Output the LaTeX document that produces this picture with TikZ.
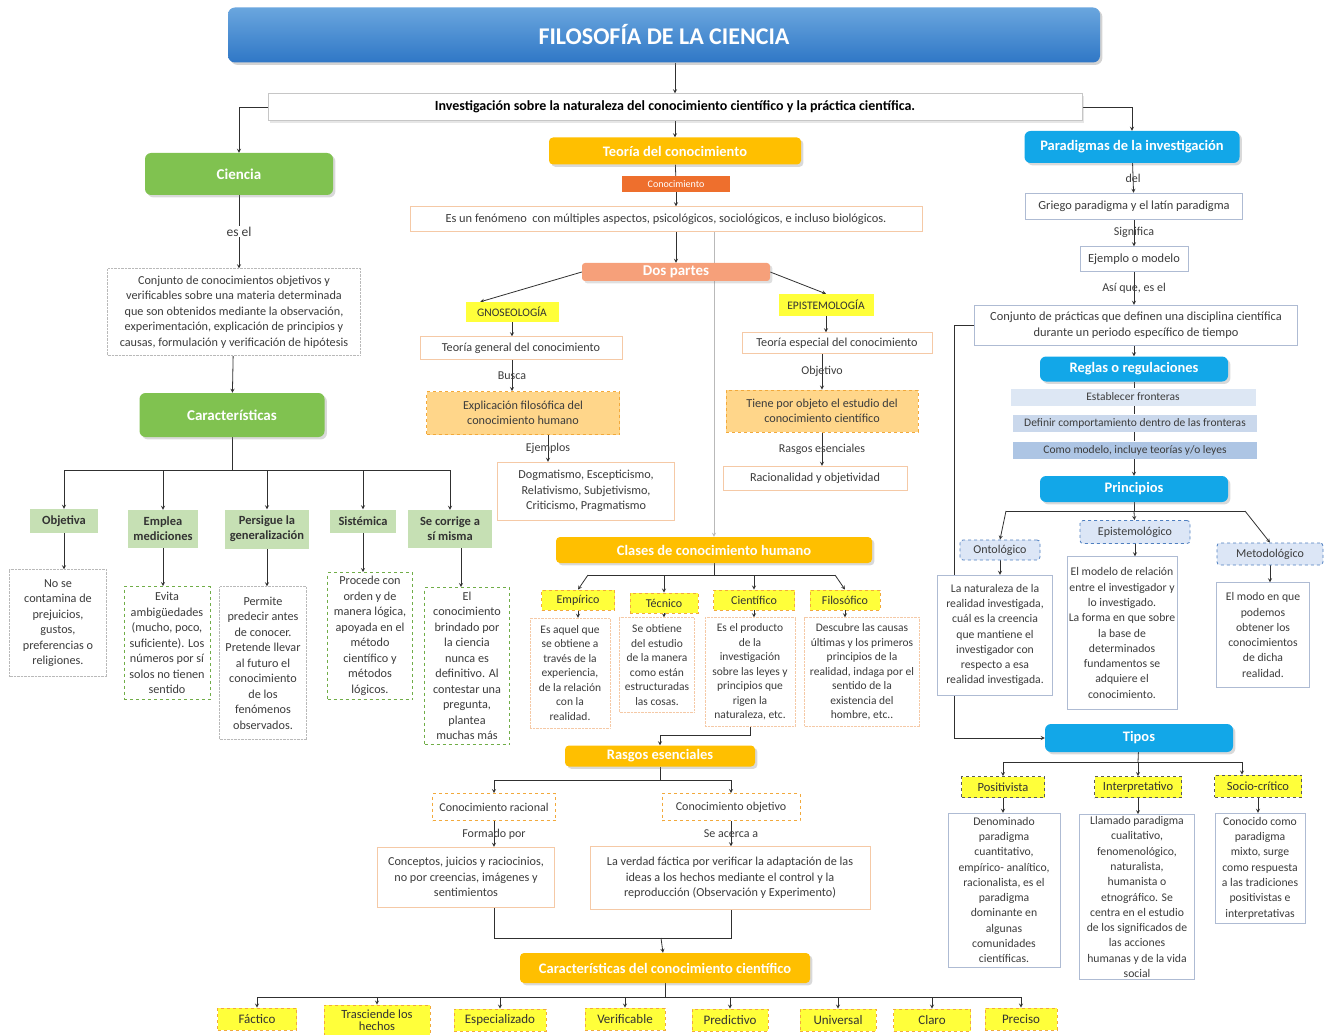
\documentclass[tikz,border=0pt]{standalone}
\usepackage{fontspec}
\setmainfont{Carlito}
\usepackage{tikz}
\usetikzlibrary{arrows, positioning, shadows, calc, backgrounds}

\definecolor{titletop}{HTML}{6AA6DE}
\definecolor{titlebot}{HTML}{2F77C6}
\definecolor{scigreen}{HTML}{80C250}
\definecolor{chargreen}{HTML}{C6E0B4}
\definecolor{dashgreen}{HTML}{70AD47}
\definecolor{gold}{HTML}{FFBF00}
\definecolor{conorange}{HTML}{EE6F2D}
\definecolor{salmon}{HTML}{F6A07A}
\definecolor{hlyellow}{HTML}{FFFF3A}
\definecolor{dashorange}{HTML}{F2A93B}
\definecolor{explfill}{HTML}{FFD68A}
\definecolor{lightorange}{HTML}{F5C9A6}
\definecolor{cyanblue}{HTML}{12A7E8}
\definecolor{paleblue1}{HTML}{DDE7F4}
\definecolor{paleblue2}{HTML}{CAD8EC}
\definecolor{paleblue3}{HTML}{ADC5E4}
\definecolor{princfill}{HTML}{DCE6F6}
\definecolor{dashblue}{HTML}{4F7FC0}
\definecolor{blueline}{HTML}{AEBBD3}
\definecolor{linegray}{HTML}{303030}
\definecolor{txtgray}{HTML}{3C3C3C}

\newcommand{\desc}{\fontsize{12.2}{15.5}\selectfont}
\newcommand{\descs}{\fontsize{11.5}{14.5}\selectfont}
\newcommand{\descr}{\fontsize{11.7}{15.3}\selectfont}

\begin{document}
\begin{tikzpicture}[x=1pt, y=-1pt,
    arrow/.style={->, >=stealth, thick, draw=linegray},
    link/.style={thick, draw=linegray},
    lbl/.style={inner sep=1pt, font=\fontsize{12}{14}\selectfont, text=txtgray},
    titlebox/.style={rectangle, rounded corners=7pt, top color=titletop, bottom color=titlebot, text=white, font=\bfseries\fontsize{24}{28}\selectfont, drop shadow={opacity=0.35}},
    whitebar/.style={rectangle, draw=gray!45, fill=white, font=\bfseries\fontsize{14}{16}\selectfont, drop shadow={opacity=0.2}},
    greenhead/.style={rectangle, rounded corners=6pt, fill=scigreen, text=white, font=\bfseries\fontsize{15}{17}\selectfont, drop shadow={opacity=0.3}},
    charbox/.style={rectangle, fill=chargreen, align=center, inner sep=2pt, font=\bfseries\fontsize{12.5}{15}\selectfont, text=black!80},
    infobox/.style={rectangle, draw=gray!55, densely dotted, fill=white, align=center, inner sep=2pt, font=\desc, text=txtgray},
    greendash/.style={rectangle, draw=dashgreen, dashed, thick, fill=white, align=center, inner sep=2pt, font=\desc, text=txtgray},
    goldhead/.style={rectangle, rounded corners=4pt, fill=gold, text=white, font=\bfseries\fontsize{14.5}{17}\selectfont, drop shadow={opacity=0.3}},
    tagbox/.style={rectangle, fill=conorange, text=white, inner sep=1pt, font=\fontsize{10}{11}\selectfont},
    orangebox/.style={rectangle, draw=lightorange, fill=white, align=center, inner sep=2pt, font=\desc, text=txtgray},
    hlbox/.style={rectangle, fill=hlyellow, font=\fontsize{11.5}{13}\selectfont, text=black!80},
    yellowdash/.style={rectangle, fill=hlyellow, draw=dashorange, dashed, thick, inner sep=2pt, font=\fontsize{12}{13}\selectfont, text=black!80, align=center},
    explbox/.style={rectangle, fill=explfill, draw=dashorange, dashed, thick, align=center, inner sep=2pt, font=\desc, text=txtgray},
    bluehead/.style={rectangle, rounded corners=6pt, fill=cyanblue, text=white, font=\bfseries\fontsize{14.5}{17}\selectfont, drop shadow={opacity=0.3}},
    bandbox/.style={rectangle, inner sep=1pt, font=\fontsize{11.5}{12}\selectfont, text=txtgray},
    princbox/.style={rectangle, rounded corners=3pt, fill=princfill, draw=dashblue, dashed, thick, inner sep=2pt, font=\fontsize{12}{13}\selectfont, text=txtgray},
    bluebox/.style={rectangle, draw=blueline, fill=white, align=center, inner sep=2pt, font=\descr, text=txtgray},
    typebox/.style={rectangle, fill=hlyellow, draw=gray!70!black, dashed, thick, inner sep=2pt, font=\fontsize{12.5}{14}\selectfont, text=black!80}
]
\useasboundingbox (0,0) rectangle (1326,1035);

% top
\node[titlebox, minimum width=872, minimum height=55] (title) at (664,35) {FILOSOFÍA DE LA CIENCIA};
\node[whitebar, minimum width=814, minimum height=27] (inv) at (675,107) {Investigación sobre la naturaleza del conocimiento científico y la práctica científica.};

% ciencia
\node[greenhead, minimum width=188, minimum height=42] (ciencia) at (239,174) {Ciencia};
\node[infobox, minimum width=253, minimum height=87] (conj) at (234,312) {Conjunto de conocimientos objetivos y\\verificables sobre una materia determinada\\que son obtenidos mediante la observación,\\experimentación, explicación de principios y\\causas, formulación y verificación de hipótesis};
\node[greenhead, minimum width=185, minimum height=44] (caract) at (232,415) {Características};

\node[charbox, minimum width=68, minimum height=24] (obj) at (64,521) {Objetiva};
\node[charbox, minimum width=70, minimum height=38] (emp) at (163,529) {Emplea\\mediciones};
\node[charbox, minimum width=84, minimum height=39] (pers) at (267,529) {Persigue la\\generalización};
\node[charbox, minimum width=66, minimum height=23] (sist) at (363,521) {Sistémica};
\node[charbox, minimum width=84, minimum height=38] (secor) at (450,529) {Se corrige a\\sí misma};

\node[infobox, minimum width=97, minimum height=107] (objd) at (58,623) {No se\\contamina de\\prejuicios,\\gustos,\\preferencias o\\religiones.};
\node[greendash, minimum width=86, minimum height=113] (empd) at (167,643) {Evita\\ambigüedades\\(mucho, poco,\\suficiente). Los\\números por sí\\solos no tienen\\sentido};
\node[infobox, minimum width=87, minimum height=153] (persd) at (263,663) {Permite\\predecir antes\\de conocer.\\Pretende llevar\\al futuro el\\conocimiento\\de los\\fenómenos\\observados.};
\node[greendash, minimum width=85, minimum height=127] (sistd) at (370,636) {Procede con\\orden y de\\manera lógica,\\apoyada en el\\método\\científico y\\métodos\\lógicos.};
\node[greendash, minimum width=85, minimum height=157] (secord) at (467,666) {El\\conocimiento\\brindado por\\la ciencia\\nunca es\\definitivo. Al\\contestar una\\pregunta,\\plantea\\muchas más};

% teoria del conocimiento
\node[goldhead, minimum width=252, minimum height=27] (teoria) at (675,151) {Teoría del conocimiento};
\node[tagbox, minimum width=108, minimum height=16] (conoc) at (676,184) {Conocimiento};
\node[orangebox, font=\fontsize{12.4}{14}\selectfont, minimum width=512, minimum height=25] (fenom) at (666,219) {Es un fenómeno\ \ con múltiples aspectos, psicológicos, sociológicos, e incluso biológicos.};
\node[rectangle, rounded corners=3pt, fill=salmon, text=white, font=\bfseries\fontsize{15}{17}\selectfont, inner sep=1pt, minimum width=188, minimum height=18, drop shadow={opacity=0.25}] (dos) at (676,272) {Dos partes};

\node[hlbox, minimum width=93, minimum height=20] (gnos) at (512,312) {GNOSEOLOGÍA};
\node[hlbox, minimum width=95, minimum height=22] (epis) at (826,305) {EPISTEMOLOGÍA};

\node[orangebox, minimum width=202, minimum height=23] (tgen) at (521,348) {Teoría general del conocimiento};
\node[explbox, minimum width=193, minimum height=43] (expl) at (523,413) {Explicación filosófica del\\conocimiento humano};
\node[orangebox, minimum width=177, minimum height=58] (dogm) at (586,491) {Dogmatismo, Escepticismo,\\Relativismo, Subjetivismo,\\Criticismo, Pragmatismo};

\node[orangebox, minimum width=190, minimum height=21] (tesp) at (837,343) {Teoría especial del conocimiento};
\node[explbox, minimum width=192, minimum height=42] (tiene) at (822,411) {Tiene por objeto el estudio del\\conocimiento científico};
\node[orangebox, minimum width=184, minimum height=24] (racio) at (815,478) {Racionalidad y objetividad};

% clases
\node[goldhead, minimum width=316, minimum height=26] (clases) at (714,550) {Clases de conocimiento humano};
\node[yellowdash, minimum width=73, minimum height=20] (empi) at (578,600) {Empírico};
\node[yellowdash, minimum width=68, minimum height=20] (tec) at (664,603) {Técnico};
\node[yellowdash, minimum width=81, minimum height=20] (cie) at (754,600) {Científico};
\node[yellowdash, minimum width=70, minimum height=20] (fil) at (845,600) {Filosófico};

\node[orangebox, densely dotted, font=\descs, minimum width=80, minimum height=110] (empid) at (570,673) {Es aquel que\\se obtiene a\\través de la\\experiencia,\\de la relación\\con la\\realidad.};
\node[orangebox, densely dotted, font=\descs, minimum width=75, minimum height=95] (tecd) at (657,665) {Se obtiene\\del estudio\\de la manera\\como están\\estructuradas\\las cosas.};
\node[orangebox, densely dotted, font=\descs, minimum width=90, minimum height=109] (cied) at (750,672) {Es el producto\\de la\\investigación\\sobre las leyes y\\principios que\\rigen la\\naturaleza, etc.};
\node[orangebox, densely dotted, font=\descs, minimum width=115, minimum height=109] (fild) at (862,672) {Descubre las causas\\últimas y los primeros\\principios de la\\realidad, indaga por el\\sentido de la\\existencia del\\hombre, etc..};

% rasgos
\node[goldhead, minimum width=190, minimum height=21] (rasgos) at (660,756) {Rasgos esenciales};
\node[orangebox, draw=dashorange, dashed, thick, font=\fontsize{12}{13}\selectfont, minimum width=123, minimum height=27] (racional) at (494,807) {Conocimiento racional};
\node[orangebox, draw=dashorange, dashed, thick, font=\fontsize{12}{13}\selectfont, minimum width=138, minimum height=27] (objet) at (731,807) {Conocimiento objetivo};
\node[orangebox, minimum width=177, minimum height=60] (concep) at (466,877) {Conceptos, juicios y raciocinios,\\no por creencias, imágenes y\\sentimientos};
\node[orangebox, minimum width=280, minimum height=63] (verdad) at (730,878) {La verdad fáctica por verificar la adaptación de las\\ideas a los hechos mediante el control y la\\reproducción (Observación y Experimento)};

\node[goldhead, minimum width=290, minimum height=30] (carac2) at (665,968) {Características del conocimiento científico};
\node[yellowdash, font=\fontsize{13}{14}\selectfont, minimum width=79, minimum height=22] (fac) at (257,1019) {Fáctico};
\node[yellowdash, font=\fontsize{12.5}{12}\selectfont, minimum width=106, minimum height=30] (tras) at (377,1020) {Trasciende los\\hechos};
\node[yellowdash, font=\fontsize{13}{14}\selectfont, minimum width=92, minimum height=22] (espe) at (500,1020) {Especializado};
\node[yellowdash, font=\fontsize{13}{14}\selectfont, minimum width=80, minimum height=22] (veri) at (625,1019) {Verificable};
\node[yellowdash, font=\fontsize{13}{14}\selectfont, minimum width=76, minimum height=22] (pred) at (730,1020) {Predictivo};
\node[yellowdash, font=\fontsize{13}{14}\selectfont, minimum width=76, minimum height=22] (univ) at (838,1020) {Universal};
\node[yellowdash, font=\fontsize{13}{14}\selectfont, minimum width=77, minimum height=22] (claro) at (932,1020) {Claro};
\node[yellowdash, font=\fontsize{13}{14}\selectfont, minimum width=72, minimum height=22] (prec) at (1021,1019) {Preciso};

% paradigmas
\node[bluehead, minimum width=215, minimum height=32] (parad) at (1132,147) {Paradigmas de la investigación};
\node[bluebox, font=\fontsize{12.4}{14}\selectfont, minimum width=217, minimum height=26] (griego) at (1134,206) {Griego paradigma y el latín paradigma};
\node[bluebox, font=\fontsize{12.4}{14}\selectfont, minimum width=108, minimum height=25] (ejem) at (1134,259) {Ejemplo o modelo};
\node[bluebox, font=\fontsize{12.4}{15.5}\selectfont, minimum width=323, minimum height=40] (cprac) at (1136,325) {Conjunto de prácticas que definen una disciplina científica\\durante un periodo específico de tiempo};
\node[bluehead, minimum width=188, minimum height=25] (reglas) at (1134,369) {Reglas o regulaciones};
\node[bandbox, fill=paleblue1, minimum width=245, minimum height=17] (estab) at (1133,397) {Establecer fronteras};
\node[bandbox, fill=paleblue2, minimum width=244, minimum height=17] (defin) at (1135,423) {Definir comportamiento dentro de las fronteras};
\node[bandbox, fill=paleblue3, minimum width=244, minimum height=17] (como) at (1135,450) {Como modelo, incluye teorías y/o leyes};
\node[bluehead, minimum width=188, minimum height=26] (princ) at (1134,489) {Principios};

\node[princbox, minimum width=80, minimum height=20] (onto) at (1000,550) {Ontológico};
\node[princbox, minimum width=110, minimum height=23] (episb) at (1135,532) {Epistemológico};
\node[princbox, minimum width=106, minimum height=22] (meto) at (1270,554) {Metodológico};
\node[bluebox, minimum width=115, minimum height=120] (ontod) at (995,635) {La naturaleza de la\\realidad investigada,\\cuál es la creencia\\que mantiene el\\investigador con\\respecto a esa\\realidad investigada.};
\node[bluebox, minimum width=105, minimum height=153] (episd) at (1122,633) {El modelo de relación\\entre el investigador y\\lo investigado.\\La forma en que sobre\\la base de\\determinados\\fundamentos se\\adquiere el\\conocimiento.};
\node[bluebox, minimum width=93, minimum height=105] (metod) at (1263,635) {El modo en que\\podemos\\obtener los\\conocimientos\\de dicha\\realidad.};

\node[bluehead, minimum width=188, minimum height=28] (tipos) at (1139,738) {Tipos};
\node[typebox, minimum width=83, minimum height=21] (posi) at (1003,787) {Positivista};
\node[typebox, minimum width=87, minimum height=21] (interp) at (1138,787) {Interpretativo};
\node[typebox, minimum width=87, minimum height=22] (socio) at (1258,786) {Socio-crítico};
\node[bluebox, minimum width=112, minimum height=154] (posid) at (1004,890) {Denominado\\paradigma\\cuantitativo,\\empírico- analítico,\\racionalista, es el\\paradigma\\dominante en\\algunas\\comunidades\\científicas.};
\node[bluebox, minimum width=115, minimum height=165] (interpd) at (1137,897) {Llamado paradigma\\cualitativo,\\fenomenológico,\\naturalista,\\humanista o\\etnográfico. Se\\centra en el estudio\\de los significados de\\las acciones\\humanas y de la vida\\social};
\node[bluebox, minimum width=90, minimum height=110] (sociod) at (1260,868) {Conocido como\\paradigma\\mixto, surge\\como respuesta\\a las tradiciones\\positivistas e\\interpretativas};

% junctions
\coordinate (cbar) at (232,470);
\coordinate (kbar) at (714,575);
\coordinate (kbl) at (588,575);
\coordinate (kbr) at (835,575);
\coordinate (rbar) at (660,780);
\coordinate (jbar) at (661,938);
\coordinate (fbar) at (665,997);
\coordinate (pbar) at (1134,511);
\coordinate (pbl) at (1006,511);
\coordinate (pbr) at (1245,511);
\coordinate (tbar) at (1138,762);

% connectors
\begin{scope}[on background layer]
\draw[arrow] (title.south -| inv) -- (inv);
\draw[arrow] (inv.west) -| (ciencia);
\draw[arrow] (inv) -- (teoria);
\draw[arrow] (inv.east) -| (parad);

\draw[arrow] (ciencia) -- node[lbl, fill=white, font=\fontsize{13.5}{15}\selectfont] {es el} (ciencia |- conj.north);
\draw[arrow] (conj) -- (caract);
\draw[link] (caract) -- (cbar);
\draw[arrow] (cbar) -| (obj);
\draw[arrow] (cbar) -| (emp);
\draw[arrow] (cbar) -| (pers);
\draw[arrow] (cbar) -| (sist);
\draw[arrow] (cbar) -| (secor);
\draw[arrow] (obj) -- (obj |- objd.north);
\draw[arrow] (emp) -- (emp |- empd.north);
\draw[arrow] (pers) -- (pers |- persd.north);
\draw[arrow] (sist) -- (sist |- sistd.north);
\draw[arrow] ([xshift=11pt]secor.south) -- ([xshift=11pt]secor.south |- secord.north);

\draw[link] (teoria) -- (conoc);
\draw[arrow] (conoc) -- (conoc |- fenom.north);
\draw[arrow] (dos |- fenom.south) -- (dos);
\draw[arrow] (dos.west) -- ([xshift=15pt]gnos.north west);
\draw[arrow] (dos.east) -- (epis.north);
\draw[arrow, draw=gray!55] (clases.north |- fenom.south) -- (clases);
\draw[arrow] (gnos) -- (gnos |- tgen.north);
\draw[arrow] (gnos |- tgen.south) -- node[lbl] {Busca} (gnos |- expl.north);
\draw[arrow] ([xshift=25pt]expl.south) -- node[lbl] {Ejemplos} ([xshift=25pt]expl.south |- dogm.north);
\draw[arrow] (epis) -- (epis |- tesp.north);
\draw[arrow] (tiene |- tesp.south) -- node[lbl] {Objetivo} (tiene);
\draw[arrow] (tiene) -- node[lbl] {Rasgos esenciales} (tiene |- racio.north);

\draw[link] (clases) -- (kbar);
\draw[link] (kbl) -- (kbr);
\draw[arrow] (kbl) -- (empi.north);
\draw[arrow] (kbar -| tec) -- (tec);
\draw[arrow] (kbar -| cie) -- (cie);
\draw[arrow] (kbr) -- (fil.north);
\draw[arrow] (empi) -- (empi |- empid.north);
\draw[arrow] (tec) -- (tec |- tecd.north);
\draw[arrow] (cie) -- (cie |- cied.north);
\draw[arrow] (fil) -- (fil |- fild.north);
\draw[arrow] (cied.south) -- ++(0,9) -| (rasgos.north);

\draw[link] (rasgos) -- (rbar);
\draw[arrow] (rbar) -| (racional);
\draw[arrow] (rbar) -| (objet);
\draw[arrow] (racional) -- node[lbl] {Formado por} (racional |- concep.north);
\draw[arrow] (objet) -- node[lbl] {Se acerca a} (objet |- verdad.north);
\draw[link] (racional |- concep.south) -- (racional |- jbar) -- (objet |- jbar) -- (objet |- verdad.south);
\draw[arrow] (jbar) -- (carac2);
\draw[link] (carac2) -- (fbar);
\foreach \n in {fac, tras, espe, veri, pred, univ, claro, prec}
    \draw[arrow] (fbar) -| (\n);

\draw[arrow] (parad) -- node[lbl] {del} (griego);
\draw[arrow] (griego) -- node[lbl] {Significa} (ejem);
\draw[arrow] (ejem) -- node[lbl] {Así que, es el} (ejem |- cprac.north);
\draw[arrow] (reglas |- cprac.south) -- (reglas);
\draw[link] (reglas) -- (reglas |- estab.north);
\draw[link] (reglas |- estab.south) -- (reglas |- defin.north);
\draw[link] (reglas |- defin.south) -- (reglas |- como.north);
\draw[arrow] (reglas |- como.south) -- (princ);
\draw[link] (princ) -- (pbar);
\draw[link] (pbl) -- (pbr);
\draw[arrow] (pbl) -- (onto.north);
\draw[arrow] (pbar) -- (episb);
\draw[arrow] (pbr) -- (meto.north);
\draw[arrow] (onto) -- (onto |- ontod.north);
\draw[arrow] (episb) -- (episb |- episd.north);
\draw[arrow] (meto) -- (meto |- metod.north);
\draw[arrow] (cprac.west) -- ++(-20,0) |- (tipos.west);

\draw[link] (tipos) -- (tbar);
\draw[arrow] (tbar) -| (posi);
\draw[arrow] (tbar) -- (interp);
\draw[arrow] (tbar) -| ([xshift=-16pt]socio.north);
\draw[arrow] (posi) -- (posi |- posid.north);
\draw[arrow] (interp) -- (interp |- interpd.north);
\draw[arrow] (socio) -- (socio |- sociod.north);
\end{scope}

\end{tikzpicture}
\end{document}
